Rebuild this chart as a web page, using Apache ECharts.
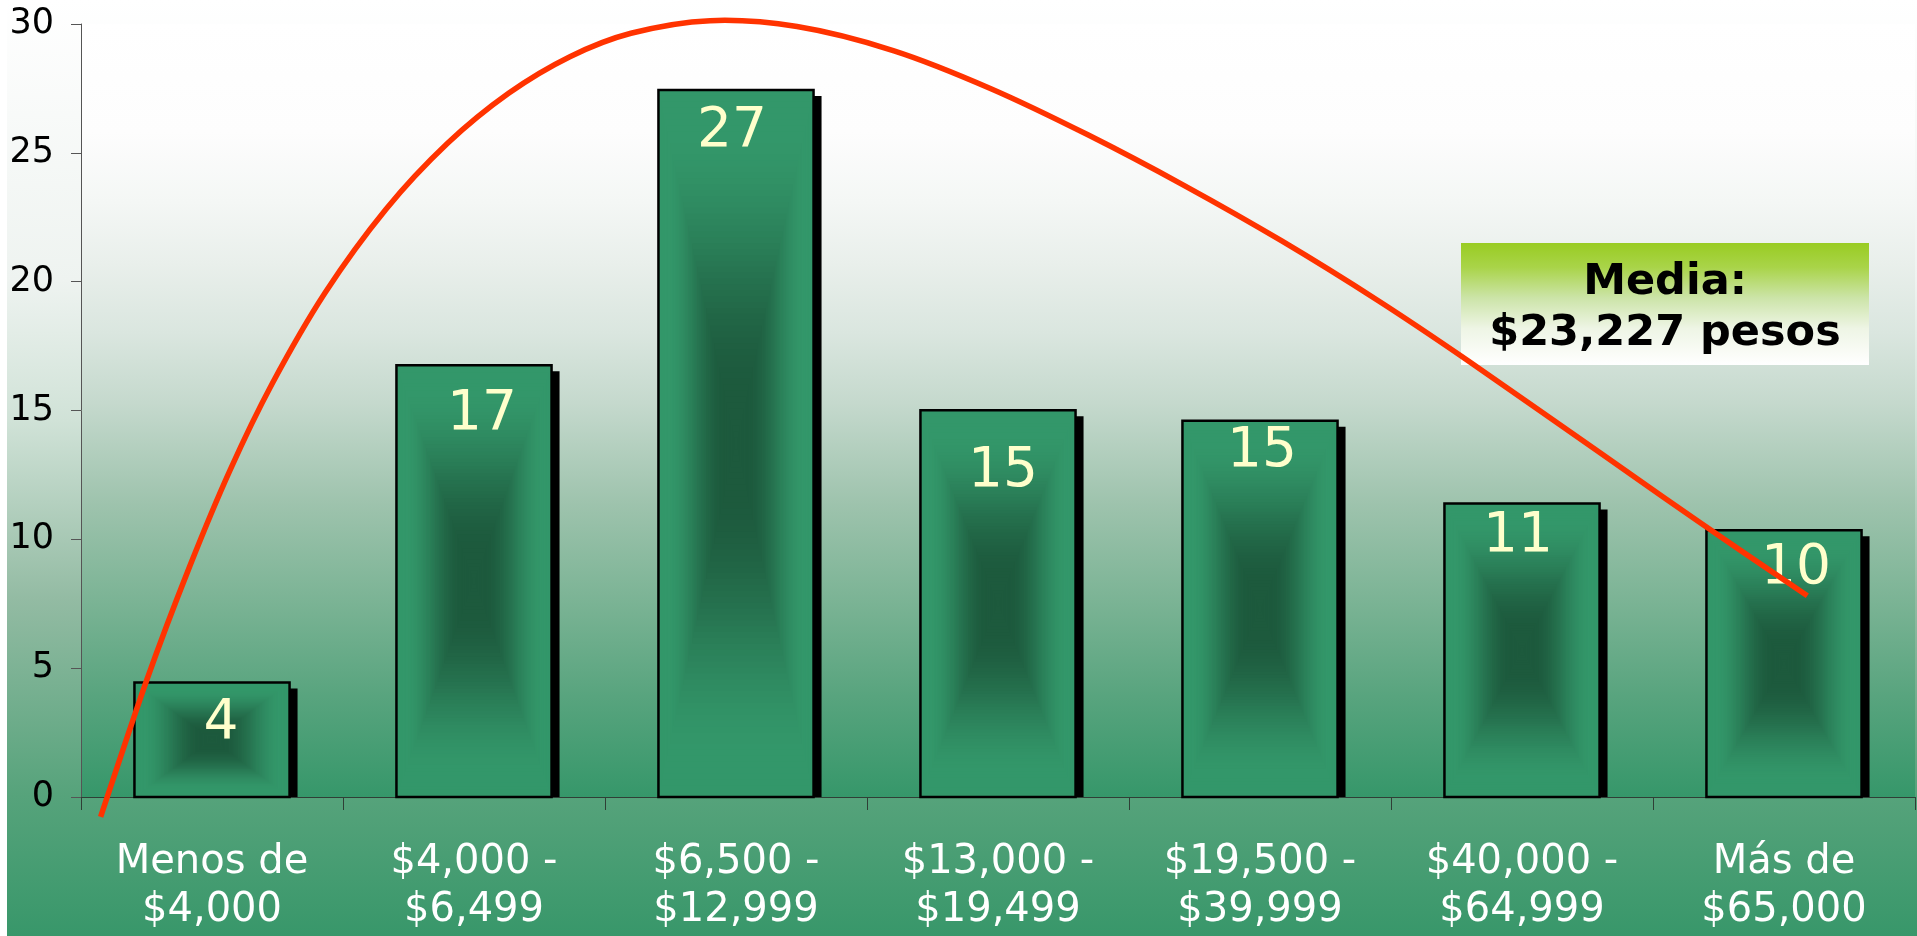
<!DOCTYPE html>
<html>
<head>
<meta charset="utf-8">
<script src="https://cdn.jsdelivr.net/npm/echarts@6/dist/echarts.min.js"></script>
<style>
html,body{margin:0;padding:0;background:#ffffff;}
#c{width:1917px;height:936px;}
</style>
</head>
<body>
<div id="c"></div>
<script>
// ---- data ----
const categories = ['Menos de\n$4,000', '$4,000 -\n$6,499', '$6,500 -\n$12,999', '$13,000 -\n$19,499', '$19,500 -\n$39,999', '$40,000 -\n$64,999', 'Más de\n$65,000'];
const counts = [4.44, 16.76, 27.44, 15.01, 14.60, 11.39, 10.35];
const yMin = 0, yMax = 30, yStep = 5;
// red trend curve, x in category-index units, y in counts
const curveX = [-0.425, -0.249, -0.084, 0.069, 0.229, 0.431, 0.664, 0.898, 1.132, 1.366, 1.599, 1.901, 2.233, 2.603, 2.973, 3.343, 3.713, 4.083, 4.453, 4.790, 5.298, 5.679, 6.089];
const curveY = [-0.77, 4.54, 8.98, 12.69, 16.03, 19.56, 22.81, 25.36, 27.31, 28.73, 29.64, 30.13, 29.90, 28.96, 27.49, 25.70, 23.72, 21.58, 19.25, 16.96, 13.36, 10.65, 7.81];
const meanLines = ['Media:', '$23,227 pesos'];

// ---- layout / style (not data) ----
const labelNudge = [[9, 41], [8, 50], [-4, 42], [5, 61], [2, 31], [-4, 33], [12, 38]];
const FONT = '"DejaVu Sans", Verdana, sans-serif';
const EDGE = [0x33, 0x97, 0x6a], DARK = [0x1d, 0x5a, 0x3d];

function mix(a, b, t) {
  const c = a.map((v, i) => Math.round(v + (b[i] - v) * t));
  return 'rgb(' + c.join(',') + ')';
}
function ease(t) {
  let u = (t - 0.1) / 0.75;
  u = Math.max(0, Math.min(1, u));
  return u * u * (3 - 2 * u);
}

const chart = echarts.init(document.getElementById('c'), null, {renderer: 'canvas'});

const option = {
  animation: false,
  backgroundColor: {
    type: 'linear', x: 0, y: 0, x2: 0, y2: 1,
    colorStops: [
      {offset: 0, color: '#ffffff'},
      {offset: 0.3, color: '#eef3f0'},
      {offset: 0.45, color: '#d0e2d7'},
      {offset: 0.64, color: '#93bba3'},
      {offset: 0.85, color: '#56a37b'},
      {offset: 1, color: '#38976a'}
    ]
  },
  grid: {
    left: 81, right: 2, top: 24, bottom: 139,
    show: true, borderWidth: 0,
    outerBoundsMode: 'none',
    backgroundColor: {
      type: 'linear', x: 0, y: 0, x2: 0, y2: 1,
      colorStops: [
        {offset: 0, color: '#ffffff'},
        {offset: 0.14, color: '#fdfdfd'},
        {offset: 0.23, color: '#f4f7f5'},
        {offset: 0.31, color: '#e9efeb'},
        {offset: 0.40, color: '#dae6df'},
        {offset: 0.49, color: '#c5d9cd'},
        {offset: 0.62, color: '#9ec3ad'},
        {offset: 0.75, color: '#7ab394'},
        {offset: 0.87, color: '#58a47e'},
        {offset: 1, color: '#36976a'}
      ]
    }
  },
  xAxis: [
    {
      type: 'category',
      data: categories,
      boundaryGap: true,
      axisLine: {show: true, onZero: false, lineStyle: {color: '#2f3f36', width: 1}},
      axisTick: {show: true, length: 13, interval: 0, lineStyle: {color: '#2f3f36', width: 1}},
      axisLabel: {interval: 0, color: '#ffffff', fontSize: 40, lineHeight: 48, margin: 42, fontFamily: FONT},
      splitLine: {show: false}
    },
    {
      type: 'value', min: -0.5, max: 6.5, show: false, splitLine: {show: false}
    }
  ],
  yAxis: {
    type: 'value', min: yMin, max: yMax, interval: yStep,
    axisLine: {show: true, onZero: false, lineStyle: {color: '#555555', width: 1}},
    axisTick: {show: true, length: 10, lineStyle: {color: '#555555'}},
    axisLabel: {color: '#000000', fontSize: 35, margin: 27, fontFamily: FONT},
    splitLine: {show: false}
  },
  series: [
    {
      type: 'custom',
      xAxisIndex: 0, yAxisIndex: 0,
      data: counts.map((v, i) => [i, v]),
      encode: {x: 0, y: 1},
      z: 3,
      renderItem: function (params, api) {
        const i = api.value(0), v = api.value(1);
        const p0 = api.coord([i, 0]);
        const p1 = api.coord([i, v]);
        const bw = api.size([1, 0])[0] * 0.592;
        const x = p0[0] - bw / 2, y = p1[1], h = p0[1] - p1[1];
        const children = [];
        children.push({type: 'rect', shape: {x: x + 8, y: y + 6, width: bw, height: h - 6}, style: {fill: '#000000'}});
        const N = 60;
        for (let k = 0; k < N; k++) {
          const t = k / N;
          children.push({
            type: 'rect',
            shape: {x: x + t * bw / 2, y: y + t * h / 2, width: bw * (1 - t), height: h * (1 - t)},
            style: {fill: mix(EDGE, DARK, ease(t))}
          });
        }
        children.push({type: 'rect', shape: {x: x, y: y, width: bw, height: h}, style: {fill: 'none', stroke: '#000000', lineWidth: 2.5}});
        const nd = labelNudge[params.dataIndex];
        children.push({
          type: 'text', x: p0[0] + nd[0], y: y + nd[1],
          style: {text: String(Math.round(v)), fill: '#ffffcc', font: '55px ' + FONT, align: 'center', verticalAlign: 'middle'}
        });
        return {type: 'group', children: children};
      }
    },
    {
      // smooth trend curve: Catmull-Rom spline through the read points, mapped with the axes
      type: 'custom',
      xAxisIndex: 1, yAxisIndex: 0,
      data: curveX.map((x, i) => [x, curveY[i]]),
      encode: {x: 0, y: 1},
      clip: false,
      z: 5,
      renderItem: function (params, api) {
        if (params.dataIndex !== 0) return null;
        const n = curveX.length;
        const pts = [];
        for (let j = 0; j < n; j++) pts.push(api.coord([api.value(0, j), api.value(1, j)]));
        let d = 'M' + pts[0][0] + ' ' + pts[0][1];
        for (let j = 0; j < n - 1; j++) {
          const p0 = pts[Math.max(0, j - 1)], p1 = pts[j], p2 = pts[j + 1], p3 = pts[Math.min(n - 1, j + 2)];
          const c1x = p1[0] + (p2[0] - p0[0]) / 6, c1y = p1[1] + (p2[1] - p0[1]) / 6;
          const c2x = p2[0] - (p3[0] - p1[0]) / 6, c2y = p2[1] - (p3[1] - p1[1]) / 6;
          d += ' C' + c1x + ' ' + c1y + ' ' + c2x + ' ' + c2y + ' ' + p2[0] + ' ' + p2[1];
        }
        return {
          type: 'path',
          shape: {pathData: d},
          style: {fill: 'none', stroke: '#ff3300', lineWidth: 5.5, lineJoin: 'round', lineCap: 'butt'}
        };
      }
    }
  ],
  graphic: [
    {type: 'rect', left: 0, top: 0, shape: {width: 7, height: 936}, style: {fill: '#ffffff'}, z: 100},
    {
      type: 'group', left: 1461, top: 243, z: 100,
      children: [
        {
          type: 'rect', shape: {x: 0, y: 0, width: 408, height: 122},
          style: {
            fill: {
              type: 'linear', x: 0, y: 0, x2: 0, y2: 1,
              colorStops: [
                {offset: 0, color: '#99cc22'},
                {offset: 0.2, color: '#a9d449'},
                {offset: 0.45, color: '#cce4a8'},
                {offset: 0.7, color: '#eef5e5'},
                {offset: 1, color: '#ffffff'}
              ]
            }
          }
        },
        {
          type: 'text', x: 204, y: 40,
          style: {text: meanLines[0], fill: '#000000', font: 'bold 43px ' + FONT, align: 'center', verticalAlign: 'middle',
                  textShadowColor: '#ffffff', textShadowOffsetX: 2, textShadowOffsetY: 2, textShadowBlur: 0}
        },
        {
          type: 'text', x: 204, y: 91,
          style: {text: meanLines[1], fill: '#000000', font: 'bold 43px ' + FONT, align: 'center', verticalAlign: 'middle',
                  textShadowColor: '#ffffff', textShadowOffsetX: 2, textShadowOffsetY: 2, textShadowBlur: 0}
        }
      ]
    }
  ]
};
chart.setOption(option);
</script>
</body>
</html>
